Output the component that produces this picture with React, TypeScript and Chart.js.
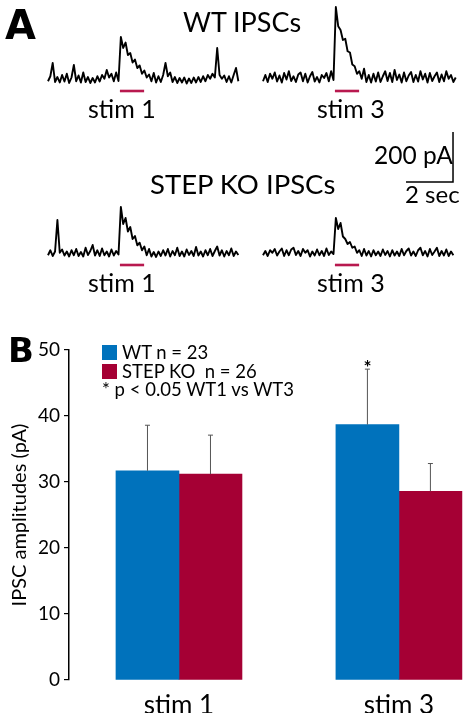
import React, { useEffect, useRef } from "react";
import { Chart, registerables } from "chart.js";

Chart.register(...registerables);

const FONT = "Lato, 'Open Sans', sans-serif";
const BLUE = "#0072BC";
const RED = "#A50034";
const STIM_RED = "#B8194F";

// ---------- Panel B data ----------
const categories = ["stim 1", "stim 3"];
const wtMeans = [31.7, 38.7];
const koMeans = [31.2, 28.6];
const wtErrors = [6.9, 8.4];
const koErrors = [5.9, 4.2];
const wtSignificant = [false, true];
const yTickValues = [0, 10, 20, 30, 40, 50];
const legendWT = "WT n = 23";
const legendKO = "STEP KO  n = 26";
const legendStat = "* p < 0.05 WT1 vs WT3";
const yTitle = "IPSC amplitudes (pA)";

// ---------- Panel A data (pA, one sample every SAMPLE_DT seconds) ----------
const SAMPLE_DT = 0.1;
const wt1Trace = [
  -5, 15, 68, -8, 12, -10, 20, -6, 25, -12, 10, 60, -5, 18, -10, 30, -8, 12, -12, 8,
  -10, 15, -6, 20, 5, 40, 10, 25, -5, 30, -4, 172, 128, 150, 100, 108, 70, 82, 48, 58,
  25, 38, 10, 22, -5, 28, -10, 15, -8, 20, 68, 15, 30, -8, 12, -12, 8, -10, 10, -14,
  6, -12, 10, -10, 12, -8, 15, -5, 20, 5, 25, 10, 128, 20, 5, 18, -8, 15, -10, 20,
  48, -5,
];
const wt3Trace = [
  -5, 20, -8, 25, 5, 30, -6, 18, -10, 28, 2, 35, -4, 15, -8, 22, 30, -5, 25, -10,
  15, 32, -6, 12, -10, 20, 8, 28, -5, 35, 0, 292, 215, 200, 160, 165, 115, 110, 62, 55,
  25, 35, 5, 45, -8, 20, -10, 25, -6, 30, -8, 15, 35, -4, 28, -8, 40, 0, 22, -10,
  30, -5, 18, 32, -8, 20, -6, 35, 2, 25, -10, 28, -4, 15, 30, -8, 22, -5, 35, 5,
  20, -8, 10,
];
const ko1Trace = [
  -5, 15, -8, 10, 136, 5, 18, -6, 10, -10, 15, -5, 20, -8, 8, -10, 25, -4, 12, 36,
  -6, 15, -8, 22, -5, 10, -10, 18, -6, 12, -2, 188, 120, 144, 90, 108, 60, 72, 35, 45,
  15, 30, -5, 20, -10, 8, -12, 10, -8, 15, -6, 20, -10, 12, -5, 25, -8, 10, -10, 18,
  -4, 12, -8, 28, -6, 10, -10, 15, -5, 20, -8, 12, 30, -6, 15, -10, 12, -5, 22, -8,
  10, -4,
];
const ko3Trace = [
  -5, 12, -8, 15, 5, 20, -6, 10, 22, -8, 15, -5, 18, 25, -4, 12, -8, 20, 5, 15,
  -10, 10, -6, 18, -5, 12, -8, 22, -4, 10, 0, 144, 100, 124, 70, 60, 40, 48, 25, 30,
  5, 15, -8, 20, -6, 12, -10, 15, -5, 10, -8, 18, -4, 12, -10, 15, -6, 10, -8, 20,
  -5, 12, 22, -6, 10, -8, 15, 25, -5, 12, -10, 20, -4, 10, 25, -8, 12, -6, 18, -8,
  10, -5,
];
const stimOnset = 3.06; // s
const stimOffset = 4.09; // s
const stimBarLevel = -44; // pA, just under the baseline
const scaleBarPA = 200;
const scaleBarSec = 2;

const toPoints = (vals: number[]) => vals.map((v, i) => ({ x: i * SAMPLE_DT, y: v }));

function PanelA() {
  const ref = useRef<HTMLCanvasElement>(null);
  useEffect(() => {
    if (!ref.current) return;
    const trace = (data: number[], xa: string, ya: string) => ({
      data: toPoints(data),
      xAxisID: xa,
      yAxisID: ya,
      borderColor: "#000",
      borderWidth: 1.9,
      borderJoinStyle: "round",
      pointRadius: 0,
      tension: 0,
    });
    const stim = (xa: string, ya: string) => ({
      data: [
        { x: stimOnset, y: stimBarLevel },
        { x: stimOffset, y: stimBarLevel },
      ],
      xAxisID: xa,
      yAxisID: ya,
      borderColor: STIM_RED,
      borderWidth: 2.6,
      pointRadius: 0,
    });
    const sbX = 8.085;
    const sbY = 288;
    const chart = new Chart(ref.current, {
      type: "line",
      data: {
        datasets: [
          trace(wt1Trace, "xL", "yTop"),
          trace(wt3Trace, "xR", "yTop"),
          trace(ko1Trace, "xL", "yBot"),
          trace(ko3Trace, "xR", "yBot"),
          stim("xL", "yTop"),
          stim("xR", "yTop"),
          stim("xL", "yBot"),
          stim("xR", "yBot"),
          {
            data: [
              { x: sbX - scaleBarSec, y: sbY },
              { x: sbX, y: sbY },
              { x: sbX, y: sbY + scaleBarPA },
            ],
            xAxisID: "xR",
            yAxisID: "yBot",
            borderColor: "#000",
            borderWidth: 1.5,
            pointRadius: 0,
          },
        ] as any,
      },
      options: {
        animation: false,
        responsive: false,
        maintainAspectRatio: false,
        devicePixelRatio: 1,
        layout: { padding: 0 },
        plugins: { legend: { display: false }, tooltip: { enabled: false } },
        scales: {
          xL: { type: "linear", display: false, min: -2.043, max: 17.83 },
          xR: { type: "linear", display: false, min: -11.19, max: 8.68 },
          yTop: { type: "linear", display: false, min: -880, max: 320 },
          yBot: { type: "linear", display: false, min: -184, max: 1016 },
        },
      } as any,
    });
    return () => chart.destroy();
  }, []);
  return (
    <canvas
      ref={ref}
      width={467}
      height={300}
      style={{ position: "absolute", left: 0, top: 0, width: 467, height: 300 }}
    />
  );
}

const errorBarPlugin = {
  id: "errorBars",
  afterDatasetsDraw(chart: any) {
    const ctx = chart.ctx;
    const yScale = chart.scales.y;
    const errs = [wtErrors, koErrors];
    chart.data.datasets.forEach((ds: any, di: number) => {
      const meta = chart.getDatasetMeta(di);
      meta.data.forEach((bar: any, i: number) => {
        const mean = ds.data[i].y;
        const topY = yScale.getPixelForValue(mean + errs[di][i]);
        ctx.save();
        ctx.strokeStyle = "#555";
        ctx.lineWidth = 1;
        ctx.beginPath();
        ctx.moveTo(bar.x, bar.y);
        ctx.lineTo(bar.x, topY);
        ctx.moveTo(bar.x - 2.5, topY);
        ctx.lineTo(bar.x + 2.5, topY);
        ctx.stroke();
        if (di === 0 && wtSignificant[i]) {
          ctx.fillStyle = "#000";
          ctx.font = `bold 19px ${FONT}`;
          ctx.textAlign = "center";
          ctx.textBaseline = "alphabetic";
          ctx.fillText("*", bar.x, topY + 5);
        }
        ctx.restore();
      });
    });
  },
};

function PanelB() {
  const ref = useRef<HTMLCanvasElement>(null);
  useEffect(() => {
    if (!ref.current) return;
    const chart = new Chart(ref.current, {
      type: "bar",
      data: {
        datasets: [
          {
            label: "WT",
            data: categories.map((_, i) => ({ x: i, y: wtMeans[i] })),
            backgroundColor: BLUE,
            barThickness: 63,
          },
          {
            label: "STEP KO",
            data: categories.map((_, i) => ({ x: i, y: koMeans[i] })),
            backgroundColor: RED,
            barThickness: 63,
          },
        ] as any,
      },
      options: {
        animation: false,
        responsive: false,
        maintainAspectRatio: false,
        devicePixelRatio: 1,
        layout: { padding: { top: 20, right: 1, left: 0, bottom: 0 } },
        plugins: { legend: { display: false }, tooltip: { enabled: false } },
        scales: {
          x: {
            type: "linear",
            min: -0.5,
            max: 1.305,
            offset: false,
            afterBuildTicks: (s: any) => {
              s.ticks = categories.map((_, i) => ({ value: i }));
            },
            ticks: {
              callback: (v: any) => categories[v] ?? "",
              font: { family: FONT, size: 26 },
              color: "#000",
              padding: 2,
              autoSkip: false,
              maxRotation: 0,
            },
            grid: { display: false },
            border: { display: false },
            afterFit: (s: any) => {
              s.height = 33;
            },
          },
          y: {
            type: "linear",
            min: 0,
            max: 50,
            afterBuildTicks: (s: any) => {
              s.ticks = yTickValues.map((v) => ({ value: v }));
            },
            ticks: {
              font: { family: FONT, size: 19 },
              color: "#000",
              padding: 4,
            },
            grid: {
              display: true,
              drawOnChartArea: false,
              drawTicks: true,
              tickLength: 5,
              color: "#000",
              lineWidth: 1.2,
            },
            border: { display: true, color: "#000", width: 1.5 },
            title: {
              display: true,
              text: yTitle,
              font: { family: FONT, size: 20 },
              color: "#000",
              padding: { top: 8, bottom: 0 },
            },
            afterFit: (s: any) => {
              s.width = 69;
            },
          },
        },
      } as any,
      plugins: [errorBarPlugin],
    });
    return () => chart.destroy();
  }, []);
  return (
    <canvas
      ref={ref}
      width={467}
      height={383}
      style={{ position: "absolute", left: 0, top: 330, width: 467, height: 383 }}
    />
  );
}

function Txt(props: {
  x: number;
  baseline: number;
  size: number;
  text: string;
  bold?: boolean;
  family?: string;
  k?: number;
}) {
  const k = props.k ?? 0.887;
  return (
    <div
      style={{
        position: "absolute",
        left: props.x,
        top: props.baseline - k * props.size,
        fontFamily: props.family ?? FONT,
        fontSize: props.size,
        lineHeight: 1,
        fontWeight: props.bold ? 700 : 400,
        whiteSpace: "pre",
        color: "#000",
      }}
    >
      {props.text}
    </div>
  );
}

export default function App() {
  return (
    <div
      style={{
        position: "absolute",
        left: 0,
        top: 0,
        width: 467,
        height: 713,
        background: "#fff",
        overflow: "hidden",
      }}
    >
      <PanelA />
      <PanelB />
      <Txt x={5} baseline={39} size={40} text="A" bold family="'DejaVu Sans', sans-serif" k={0.846} />
      <Txt x={183} baseline={32} size={27} text="WT IPSCs" />
      <Txt x={88} baseline={118} size={25} text="stim 1" />
      <Txt x={317} baseline={118} size={25} text="stim 3" />
      <Txt x={150} baseline={194} size={27.5} text="STEP KO IPSCs" />
      <Txt x={374} baseline={165} size={24.5} text="200 pA" />
      <Txt x={405} baseline={203} size={24} text="2 sec" />
      <Txt x={88} baseline={292} size={25} text="stim 1" />
      <Txt x={317} baseline={292} size={25} text="stim 3" />
      <Txt x={8} baseline={362} size={34} text="B" bold family="'DejaVu Sans', sans-serif" k={0.846} />
      <div style={{ position: "absolute", left: 102, top: 345, width: 15, height: 15, background: BLUE }} />
      <div style={{ position: "absolute", left: 102, top: 364, width: 15, height: 15, background: RED }} />
      <Txt x={122} baseline={359} size={18.5} text={legendWT} />
      <Txt x={122} baseline={378} size={18.5} text={legendKO} />
      <Txt x={102} baseline={396} size={18.5} text={legendStat} />
    </div>
  );
}
